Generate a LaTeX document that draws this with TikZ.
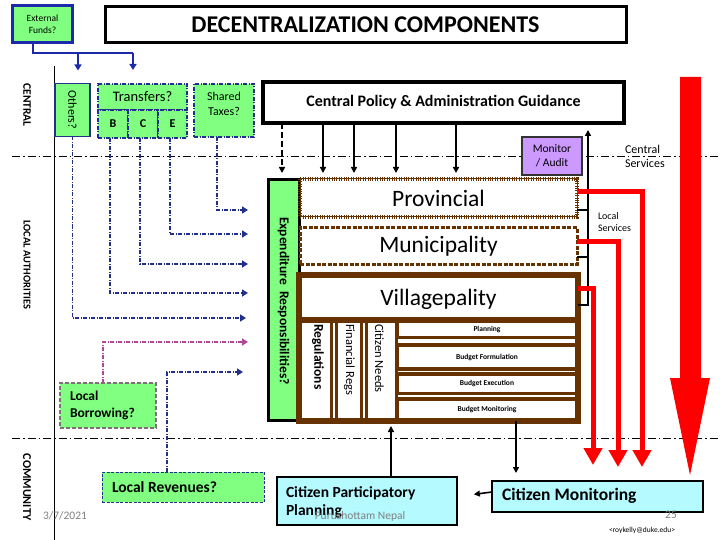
\documentclass[tikz,border=0pt]{standalone}
\usepackage{fontspec}
\setmainfont{Carlito}
\usetikzlibrary{arrows.meta}
\definecolor{lgreen}{RGB}{128,255,128}
\definecolor{navyb}{RGB}{32,48,140}
\definecolor{extblue}{RGB}{30,40,170}
\definecolor{brn}{RGB}{102,51,0}
\definecolor{lcyan}{RGB}{180,250,255}
\definecolor{lav}{RGB}{204,153,255}
\definecolor{mag}{RGB}{175,70,150}
\definecolor{gtxt}{RGB}{128,128,128}
\definecolor{bred}{RGB}{255,0,0}
\definecolor{lbgray}{RGB}{130,110,120}
\newcommand\fsz[2]{\fontsize{#1}{#2}\selectfont}
\begin{document}
\begin{tikzpicture}[x=1pt,y=-1pt,
  every node/.style={inner sep=0pt, outer sep=0pt},
  gbox/.style={draw, fill=lgreen},
  dd/.style={dash pattern=on 4pt off 1.5pt on 1pt off 1.5pt},
  sepline/.style={line width=0.9pt, dash pattern=on 8pt off 3pt on 1.5pt off 3pt},
  flow/.style={navyb, line width=1.5pt, dd, -{Triangle[width=7pt,length=6pt]}},
  extc/.style={extblue, line width=2pt},
  blkarr/.style={line width=1.6pt, -{Triangle[width=6pt,length=6pt]}},
  redarr/.style={bred, line width=5pt, -{Triangle[width=18pt,length=17pt]}},
  side/.style={rotate=-90, font=\bfseries\fsz{10.5}{12}},
  rowtxt/.style={font=\bfseries\fsz{7.5}{9}},
  gray note/.style={text=gtxt, font=\fsz{11.5}{13}}
]
\useasboundingbox (0,0) rectangle (720,540);

% separators
\draw[sepline] (12,156) -- (720,156);
\draw[sepline] (12,438) -- (720,438);
\draw[line width=1pt] (54,66) -- (54,540);

% side labels
\node[side, font=\bfseries\fsz{11.5}{13}] (lcen) at (27,105) {CENTRAL};
\node[side] (lloc) at (27,265) {LOCAL AUTHORITIES};
\node[side, font=\bfseries\fsz{12}{13}] (lcom) at (27,487) {COMMUNITY};

% title and external funds
\node[draw=extblue, line width=3pt, fill=lgreen, minimum width=60pt, minimum height=37pt, align=center, font=\fsz{9.5}{12}] (ext) at (42.5,24) {External\\Funds?};
\node[draw, line width=3pt, minimum width=521pt, minimum height=36pt, font=\bfseries\fsz{24}{27}] (title) at (365.5,24.5) {DECENTRALIZATION COMPONENTS};

% central boxes
\node[gbox, draw=navyb, line width=1.2pt, minimum width=35pt, minimum height=53pt] (others) at (72.5,110) {};
\node[rotate=-90, font=\fsz{12}{14}] (otherst) at (others) {Others?};
\node[gbox, draw=navyb, line width=1.5pt, dd, minimum width=89pt, minimum height=26pt, font=\fsz{14.5}{16}] (ttop) at (142.5,97) {Transfers?};
\node[gbox, draw=navyb, line width=1.5pt, dd, minimum width=30pt, minimum height=28pt, font=\bfseries\fsz{12}{14}] (tB) at (113,124) {B};
\node[gbox, draw=navyb, line width=1.5pt, dd, minimum width=30pt, minimum height=28pt, font=\bfseries\fsz{12}{14}] (tC) at (143,124) {C};
\node[gbox, draw=navyb, line width=1.5pt, dd, minimum width=29pt, minimum height=28pt, font=\bfseries\fsz{12}{14}] (tE) at (172.5,124) {E};
\node[gbox, draw=navyb, line width=1.5pt, dd, minimum width=60pt, minimum height=53pt] (shared) at (224,110.5) {};
\node[align=center, font=\fsz{12}{15}] (sharedt) at (224,104) {Shared\\Taxes?};

% external funds connectors
\coordinate (e1) at (78,53);
\coordinate (e2) at (133,53);
\draw[extc] ([xshift=-9.5pt]ext.south) |- (e2);
\draw[extc, -{Triangle[width=7pt,length=6pt]}, shorten >=13pt] (e1) -- (others.north -| e1);
\draw[extc, -{Triangle[width=7pt,length=6pt]}, shorten >=14pt] (e2) -- (ttop.north -| e2);

\node[draw, line width=4pt, minimum width=361pt, minimum height=41pt, font=\bfseries\fsz{16}{19}] (central) at (443.5,102.5) {Central Policy \& Administration Guidance};

% local government boxes
\node[gbox, line width=3pt, minimum width=31pt, minimum height=240pt] (exp) at (283.5,300) {};
\node[rotate=-90, font=\bfseries\fsz{13.5}{15}] (expt) at (283.5,301) {Expenditure~~Responsibilities?};
\node[draw=brn, fill=white, line width=1pt, minimum width=277pt, minimum height=38pt, font=\fsz{23.5}{26}] (prov) at (438.5,198) {Provincial};
\draw[brn, line width=3.5pt, dash pattern=on 0.8pt off 1.6pt] (prov.north west) rectangle (prov.south east);
\node[draw=brn, fill=white, line width=3pt, dash pattern=on 4pt off 1.5pt, minimum width=277pt, minimum height=36pt, font=\fsz{23.5}{26}] (muni) at (438.5,246) {Municipality};
\node[draw=brn, fill=white, line width=6pt, minimum width=279pt, minimum height=146pt] (vill) at (438.5,348) {};
\node[font=\fsz{23.5}{26}] (villt) at (438.5,299) {Villagepality};
\draw[brn, line width=6pt] (vill.west |- 0,320) -- (vill.east |- 0,320);

% columns
\node[draw=brn, line width=3pt, minimum width=31.5pt, minimum height=99pt] (reg) at (315.75,370.5) {};
\node[draw=brn, line width=3pt, minimum width=25pt, minimum height=99pt] (fin) at (349,370.5) {};
\node[draw=brn, line width=3pt, minimum width=29.5pt, minimum height=99pt] (cit) at (381.25,370.5) {};
\node[rotate=-90, anchor=west, font=\bfseries\fsz{13.5}{15}] (regt) at (318,324) {Regulations};
\node[rotate=-90, anchor=west, font=\fsz{12.5}{14}] (fint) at (349.5,324) {Financial Regs};
\node[rotate=-90, anchor=west, font=\fsz{12.5}{14}] (citt) at (379.5,324) {Citizen Needs};

% rows
\node[draw=brn, line width=3.5pt, minimum width=180pt, minimum height=16.5pt, rowtxt] (plan) at (487,329.25) {Planning};
\node[draw=brn, line width=3.5pt, minimum width=180pt, minimum height=24pt, rowtxt] (bform) at (487,357) {Budget Formulation};
\node[draw=brn, line width=3.5pt, minimum width=180pt, minimum height=19.5pt, rowtxt] (bexec) at (487,383.75) {Budget Execution};
\node[draw=brn, line width=3.5pt, minimum width=180pt, minimum height=21pt, rowtxt] (bmon) at (487,409.5) {Budget Monitoring};

% flows to expenditure
\draw[flow, shorten >=22pt] (others.south) |- (exp.west |- 0,318);
\draw[flow, shorten >=20pt] ([xshift=-3pt]tB.south) |- (exp.west |- 0,293);
\draw[flow, shorten >=20pt] ([xshift=-3pt]tC.south) |- (exp.west |- 0,264);
\draw[flow, shorten >=20pt] ([xshift=-2.5pt]tE.south) |- (exp.west |- 0,234);
\draw[flow, shorten >=20pt] ([xshift=-7pt]shared.south) |- (exp.west |- 0,210);

% local borrowing / revenues
\node[draw=lbgray, fill=lgreen, line width=1.8pt, dash pattern=on 4pt off 2pt, minimum width=96pt, minimum height=45pt] (lb) at (108,405.5) {};
\node[anchor=west, align=left, font=\bfseries\fsz{13.5}{17}] (lbt) at (70,405.5) {Local\\Borrowing?};
\node[draw=navyb, fill=lgreen, line width=0.9pt, dash pattern=on 3pt off 1.5pt, minimum width=162pt, minimum height=30pt] (lr) at (183,487) {};
\node[anchor=west, font=\bfseries\fsz{15.5}{17}] (lrt) at (112,487) {Local Revenues?};
\draw[flow, draw=mag, mag, shorten >=20pt] ([xshift=-5pt]lb.north) |- (exp.west |- 0,342);
\draw[flow, shorten >=25pt] ([xshift=-16pt]lr.north) |- (exp.west |- 0,372);

% central arrows
\draw[line width=2.5pt, dash pattern=on 6pt off 3pt, -{Triangle[width=6pt,length=6pt]}, shorten >=7pt] (central.south -| 282,0) -- (exp.north -| 282,0);
\foreach \xx in {323,354,396,456}{
  \draw[blkarr, shorten >=6pt] (central.south -| \xx,0) -- (prov.north -| \xx,0);
}

% monitor / audit
\node[draw=black!80, fill=lav, line width=2pt, minimum width=60pt, minimum height=38pt, align=center, font=\fsz{11.5}{14}] (mon) at (552,156) {Monitor\\/ Audit};
\node[anchor=west, align=left, font=\fsz{12}{14}] (cserv) at (625,156) {Central\\Services};
\node[anchor=west, align=left, font=\fsz{10}{12}] (lserv) at (598,222) {Local\\Services};

% local services line
\draw[line width=1.6pt] (prov.east |- 0,210) -- (588,210);
\draw[line width=1.6pt] (muni.east |- 0,257) -- (588,257);
\draw[blkarr, shorten >=7pt] (vill.east |- 0,305) -- (588,305) -- (central.south -| 588,0);

% red arrows
\draw[redarr] ([yshift=6pt]prov.east) -- (642,192) -- (642,467);
\draw[redarr] ([yshift=5pt]muni.east) -- (618,241) -- (618,467);
\draw[redarr] (vill.east |- 0,288) -- (593,288) -- (593,465);
\fill[bred] (680,77) -- (701,77) -- (701,378) -- (710,378) -- (690,475) -- (670,378) -- (680,378) -- cycle;

% community boxes
\node[draw, fill=lcyan, line width=1.2pt, minimum width=180pt, minimum height=48pt] (cpp) at (367,501) {};
\node[anchor=west, align=left, font=\bfseries\fsz{15.5}{18}] (cppt) at (286,502) {Citizen Participatory\\Planning};
\node[draw, fill=lcyan, line width=1.2pt, minimum width=211pt, minimum height=31pt] (cm) at (597.5,496.5) {};
\node[anchor=west, font=\bfseries\fsz{17.5}{20}] (cmt) at (502,496) {Citizen Monitoring};
\draw[blkarr, shorten >=5pt] (cpp.north -| 391,0) -- (vill.south -| 391,0);
\draw[blkarr, shorten >=8pt] (vill.south -| 516,0) -- (cm.north -| 516,0);
\draw[blkarr, shorten >=17pt] ([yshift=4.5pt]cm.west) -- ([yshift=4.5pt]cpp.east);

% footer
\node[gray note] (date) at (65,516) {3/7/2021};
\node[gray note] (auth) at (360,516) {Purushottam Nepal};
\node[gray note] (pg) at (671,515) {25};
\node[font=\fsz{7.5}{9}] (mail) at (642,530) {<roykelly@duke.edu>};
\end{tikzpicture}
\end{document}
